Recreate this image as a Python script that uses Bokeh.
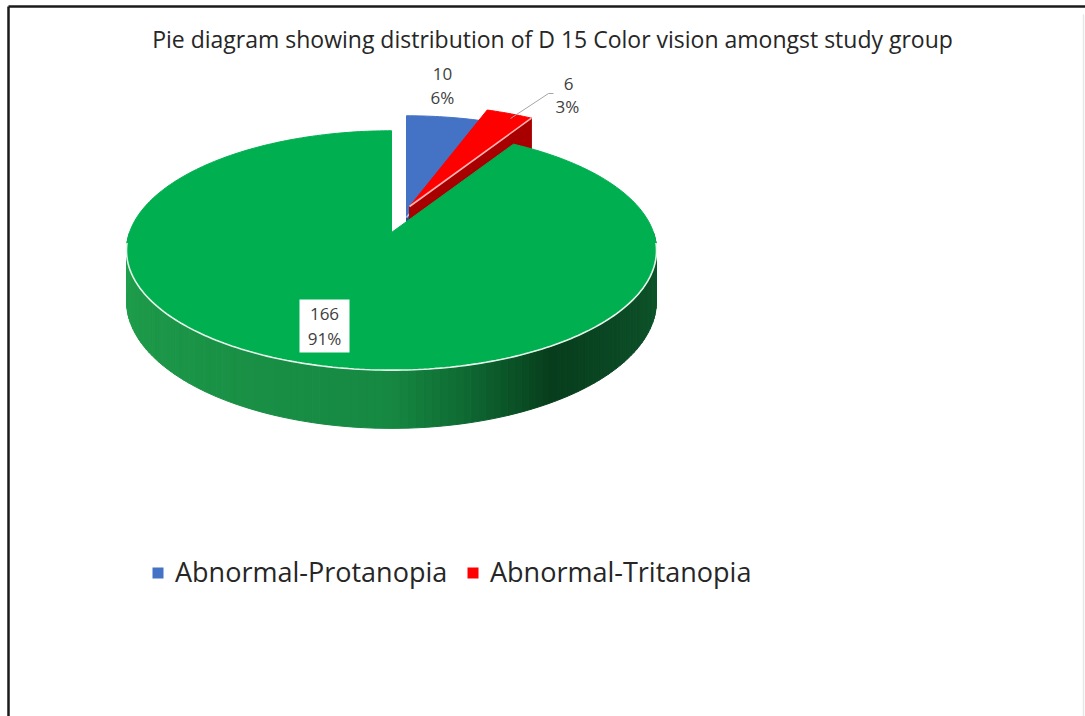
import math
from bokeh.plotting import figure
from bokeh.models import Range1d
from bokeh.core.properties import value
from bokeh.embed import file_html
from bokeh.resources import INLINE

# ---------------- data ----------------
categories = ["Abnormal-Protanopia", "Abnormal-Tritanopia", "Normal"]
counts = [10, 6, 166]
count_labels = ["10", "6", "166"]
percent_labels = ["6%", "3%", "91%"]
legend_names = ["Abnormal-Protanopia", "Abnormal-Tritanopia"]
title_text = "Pie diagram showing distribution of D 15 Color vision amongst study group"

# ---------------- style ----------------
top_colors = ["#4472c4", "#ff0000", "#00b050"]
face_colors = ["#2c4f8e", "#a80000", "#0d6a33"]
edge_colors = ["#a9c4ee", "#ffb3b3", "#e8f5ec"]
explode = [(15, -15), (18, -26), (0, 0)]   # screen offsets of exploded slices
FONT = "Open Sans"
TXT = "#404040"

W, H = 1085, 716
CX, CY, RX, RY, K, DEPTH = 391.0, 232.0, 262.0, 117.0, 0.15, 49.5


def proj(theta_deg, r=1.0, drop=0.0, off=(0, 0)):
    t = math.radians(theta_deg)
    u = r * math.sin(t)
    v = r * math.cos(t)
    s = 1.0 / (1.0 + K * v)
    return (CX + RX * u * s + off[0], CY - RY * v * s + drop * DEPTH * s + off[1])


def arc_angles(a0, a1, step=1.0):
    n = max(2, int(abs(a1 - a0) / step) + 1)
    return [a0 + (a1 - a0) * i / (n - 1) for i in range(n)]


def side_color(theta):
    stops = [(90, (14, 90, 45)), (127, (11, 74, 37)), (148, (7, 61, 28)),
             (167, (15, 107, 51)), (180, (22, 136, 66)), (254, (30, 156, 74)),
             (270, (32, 160, 76))]
    for (a0, c0), (a1, c1) in zip(stops[:-1], stops[1:]):
        if a0 <= theta <= a1:
            f = (theta - a0) / (a1 - a0)
            c = [int(round(c0[i] + (c1[i] - c0[i]) * f)) for i in range(3)]
            return "#%02x%02x%02x" % tuple(c)
    return "#%02x%02x%02x" % stops[-1][1]


total = sum(counts)
spans = [360.0 * c / total for c in counts]
starts = [sum(spans[:i]) for i in range(len(spans))]

p = figure(width=W, height=H, x_range=Range1d(0, W), y_range=Range1d(H, 0),
           x_axis_type=None, y_axis_type=None, output_backend="svg",
           toolbar_location=None, min_border=0)
p.grid.visible = False
p.outline_line_color = None
p.background_fill_color = "white"
p.border_fill_color = "white"

# frame lines
p.line([8, 8], [6, H], line_color="#1a1a1a", line_width=2.5)
p.line([8, W], [6, 6], line_color="#1a1a1a", line_width=2.5)
p.line([1083, 1083], [14, H], line_color="#e6e6e6", line_width=1.5)

# exploded slices (drawn first, they sit behind the big slice)
for i in (0, 1):
    a0, a1 = starts[i], starts[i] + spans[i]
    off = explode[i]
    ax, ay = proj(a1, r=0, off=off)
    ox, oy = proj(a1, off=off)
    bx, by = proj(a1, drop=1, off=off)
    cx2, cy2 = proj(a1, r=0, drop=1, off=off)
    p.patch([ax, ox, bx, cx2], [ay, oy, by, cy2], fill_color=face_colors[i],
            line_color=face_colors[i], line_width=1)
    pts = [proj(a, off=off) for a in arc_angles(a0, a1)]
    xs = [ax] + [q[0] for q in pts]
    ys = [ay] + [q[1] for q in pts]
    p.patch(xs, ys, fill_color=top_colors[i], line_color=top_colors[i], line_width=1)
    p.line([ax, ox], [ay, oy], line_color=edge_colors[i], line_width=1.6)

# big slice: side wall with shading strips
g = 2
g0, g1 = starts[g], starts[g] + spans[g]
side = arc_angles(max(90.0, g0), min(270.0, g1), step=1.5)
sx, sy = [], []
for ta, tb in zip(side[:-1], side[1:]):
    pa, pb = proj(ta), proj(tb)
    qa, qb = proj(ta, drop=1), proj(tb, drop=1)
    sx.append([pa[0], pb[0], qb[0], qa[0]])
    sy.append([pa[1], pb[1], qb[1], qa[1]])
cols = [side_color((ta + tb) / 2) for ta, tb in zip(side[:-1], side[1:])]
p.patches(sx, sy, fill_color=cols, line_color=cols, line_width=1)

# big slice: top face
pts = [proj(a) for a in arc_angles(g0, g1)]
xs = [CX] + [q[0] for q in pts]
ys = [CY] + [q[1] for q in pts]
p.patch(xs, ys, fill_color=top_colors[g], line_color=top_colors[g], line_width=1)
rim = [proj(a) for a in arc_angles(95, 265)]
p.line([q[0] for q in rim], [q[1] for q in rim], line_color=edge_colors[g], line_width=1.6)


def label(x, y, s, size="17px", color=TXT, align="center"):
    p.text([x], [y], text=[s], text_align=align, text_baseline="middle",
           text_font=value(FONT), text_font_size=size, text_color=color)


# data labels
label(442, 73, count_labels[0])
label(442, 97, percent_labels[0])

p.line([510, 548, 553], [118, 93, 93], line_color="#a6a6a6", line_width=1)
label(568, 83, count_labels[1])
label(567, 106, percent_labels[1])

p.quad(left=[299], right=[349], top=[299], bottom=[352], fill_color="white", line_color=None)
label(324, 313, count_labels[2])
label(324, 338, percent_labels[2])

# title
label(552, 38, title_text, size="23px", color="#262626")

# legend
leg_x = [157.5, 472.5]
for i, name in enumerate(legend_names):
    p.rect([leg_x[i]], [572.5], width=11, height=11, fill_color=top_colors[i], line_color=None)
    label(leg_x[i] + 17, 571, name, size="27px", color="#262626", align="left")

open("out.html", "w").write(file_html(p, INLINE))
